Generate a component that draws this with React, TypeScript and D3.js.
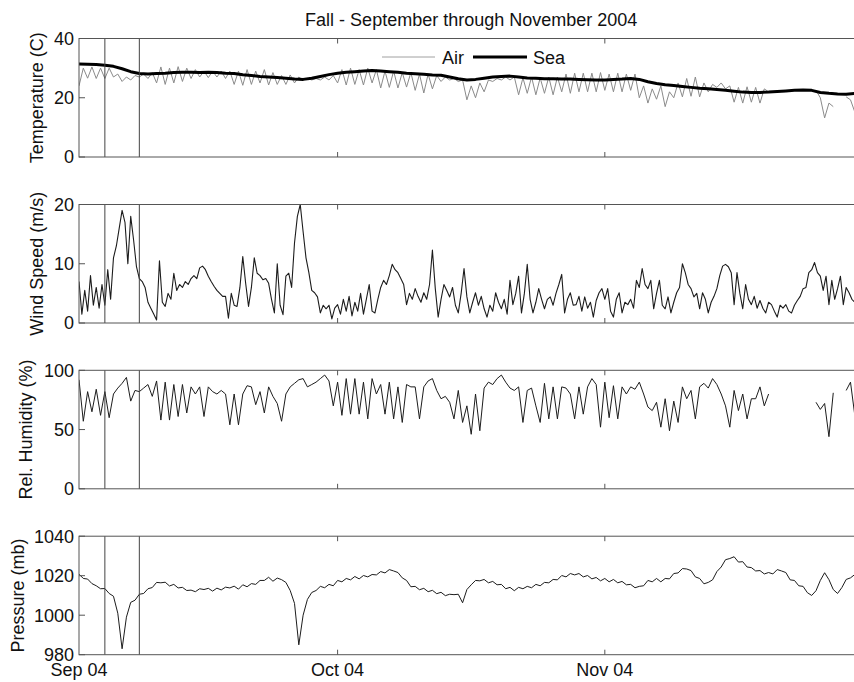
import React from "react";
import * as d3 from "d3";

// Buoy record, fall 2004. Day 0 is 1 September 2004 (UTC).
const START = Date.UTC(2004, 8, 1);
const END = Date.UTC(2004, 11, 1);
const DAY = 86400000;

const title = "Fall - September through November 2004";

const xTickDates = [Date.UTC(2004, 8, 1), Date.UTC(2004, 9, 1), Date.UTC(2004, 10, 1)];
const xTickLabels = ["Sep 04", "Oct 04", "Nov 04"];

// storm passage markers
const eventDates = [Date.UTC(2004, 8, 4), Date.UTC(2004, 8, 8)];

// sea surface temperature (C), one value per day
const seaTemp = [
  31.4, 31.3, 31.2, 31.0, 30.6, 29.8, 28.8, 28.2, 28.0, 28.2,
  28.3, 28.5, 28.6, 28.6, 28.5, 28.6, 28.5, 28.3, 28.2, 27.8,
  27.5, 27.2, 27.0, 26.8, 26.6, 26.3, 26.2, 26.6, 27.2, 27.8,
  28.3, 28.6, 28.8, 29.0, 29.2, 29.0, 28.8, 28.6, 28.3, 28.1,
  27.9, 27.7, 27.6, 27.0, 26.4, 26.0, 26.2, 26.6, 27.0, 27.2,
  27.3, 27.0, 26.7, 26.6, 26.4, 26.4, 26.3, 26.3, 26.2, 26.1,
  26.0, 26.0, 26.2, 26.3, 26.5, 26.2, 25.4, 24.8, 24.4, 24.1,
  23.8, 23.5, 23.2, 23.0, 22.8, 22.5, 22.2, 21.9, 21.8, 21.8,
  21.9, 22.1, 22.3, 22.5, 22.6, 22.5, 21.8, 21.5, 21.3, 21.2,
  21.5,
];

// air temperature (C), every 12 h (NaN = no record)
const airTemp = [
  24, 30, 26.6, 30.4, 26.5, 30, 26.5, 30, 27, 28,
  25.5, 27, 26, 27.5, 27, 28, 26.5, 28.5, 25, 30.4,
  24.5, 30, 25, 30.5, 25.5, 30, 26.5, 29.5, 27, 29,
  26.8, 29, 27, 29, 26.5, 29, 24.5, 29, 24.2, 29.5,
  24.5, 29, 25, 29.5, 24.3, 28.5, 24.5, 27.5, 24.5, 27.7,
  25, 27, 26, 26.5, 26, 26.5, 26, 27, 26, 27.5,
  25, 29.5, 24.3, 30, 24.5, 29.5, 24.3, 30, 25, 29.5,
  23.3, 29, 23.5, 29, 23.3, 28.5, 23.6, 28.5, 22.5, 28,
  21.6, 28, 23, 27.5, 25.5, 27, 26, 26.5, 25.5, 26,
  19.3, 24, 20, 25, 22, 26, 25.5, 26.5, 26, 27,
  26, 27, 21, 26.7, 21.5, 27, 21, 26.7, 21.5, 27,
  21, 27, 22, 28, 21.5, 28.3, 22, 28.3, 22, 28.3,
  22, 28.5, 22.5, 28, 22, 28.3, 22, 28, 22.5, 28,
  20, 24, 18.2, 23, 19.5, 24, 17, 22, 20, 25,
  20.3, 26.5, 20.5, 27, 20.3, 25, 22, 24.5, 23.5, 25,
  23, 24, 18.5, 23.5, 18.2, 23.7, 18.5, 23.5, 18.2, 23,
  22, NaN, NaN, NaN, NaN, NaN, NaN, NaN, NaN, NaN,
  NaN, 22.5, 20, 13.2, 18.2, 17, NaN, NaN, 20.3, 19.3,
  15.2,
];

// wind speed (m/s), every 8 h
const windSpeed = [
  7, 1.5, 5.5, 2, 8, 3, 6, 2.5, 6.5, 3, 9, 4,
  11, 13, 16, 19, 17, 10, 18, 14, 9.5, 7.5, 7, 6,
  3.5, 2.5, 1.5, 0.5, 10.5, 3.5, 2.8, 5, 4, 8.4, 5.5, 6.5,
  6, 7, 6.5, 7.5, 8, 7.5, 9.3, 9.6, 9, 7.9, 7, 6.2,
  5.5, 5, 4.5, 4.5, 0.8, 5, 3, 2.8, 6, 11.2, 6.7, 2.8,
  6, 11, 8.4, 8, 7.3, 7.5, 6.7, 4, 1.7, 10, 3, 1.4,
  7.9, 8.4, 6, 13.5, 18, 20, 15.4, 11, 8.5, 5.5, 5.1, 4.4,
  1.7, 3, 2.4, 3, 0.7, 2.5, 3.1, 1.5, 4, 2, 4.5, 1.2,
  3.5, 2, 5, 1.5, 4, 6.5, 2, 1.7, 4, 6, 7.2, 6.5,
  8, 9.9, 9, 8.5, 7.5, 6.5, 3.1, 5, 4, 5.8, 4.5, 3.5,
  5.1, 4, 6.5, 12.3, 5.8, 1, 4, 6.5, 5.5, 4.4, 6, 3,
  1.7, 5, 9.2, 4.4, 1.7, 3.5, 5.1, 3, 4.5, 2.4, 1, 3,
  2, 5.1, 3.5, 2.4, 4, 1.5, 7.2, 3.1, 5, 7.9, 1.7, 5,
  9.9, 4, 1.7, 3.5, 5.8, 4, 2.4, 4, 4.4, 3, 5, 6.5,
  8.2, 1.7, 4, 5.1, 3, 3.1, 4.5, 2, 4.4, 2.5, 3.5, 1,
  3.8, 5.1, 5.8, 4, 5.8, 2, 1, 4, 5.1, 1.7, 3.5, 3.1,
  4, 2.5, 7.2, 6, 9.2, 6.5, 5.8, 7.2, 2.4, 5, 7.2, 3,
  2.4, 4.4, 1.7, 3.5, 5.1, 6, 10, 8.5, 6.5, 5.8, 4.4, 5,
  2.4, 5.1, 4, 1.7, 3.5, 4.5, 5.8, 8, 9.6, 9.9, 9.5, 8.5,
  3.1, 8.5, 5, 2.4, 6.5, 4, 3.1, 4.5, 2.5, 3.8, 2.5, 1.7,
  3.5, 3.1, 2, 1, 3, 2.5, 3.1, 2, 1.7, 3, 3.8, 4.5,
  5.8, 6, 8.5, 9, 10.2, 8.5, 7.9, 5.5, 7.9, 3.1, 7.2, 4,
  5.8, 7.9, 3.1, 6, 5.1, 4, 3.5,
];

// relative humidity (%), every 12 h (NaN = no record)
const relHumidity = [
  92, 57, 82, 65, 84, 62, 82, 60, 80, 85,
  89, 94, 74, 83, 82, 85, 88, 78, 91, 58,
  90, 58, 88, 61, 88, 64, 86, 80, 86, 61,
  86, 82, 80, 83, 80, 54, 80, 54, 80, 87,
  86, 71, 82, 64, 86, 78, 72, 57, 80, 86,
  89, 92, 93, 86, 88, 90, 93, 96, 91, 70,
  90, 62, 93, 63, 93, 63, 90, 59, 93, 80,
  88, 63, 90, 59, 86, 56, 88, 86, 86, 59,
  86, 91, 93, 83, 76, 78, 73, 59, 83, 56,
  70, 46, 80, 49, 85, 90, 88, 93, 96, 90,
  85, 83, 86, 56, 83, 85, 70, 56, 89, 59,
  86, 59, 86, 85, 80, 59, 86, 63, 86, 93,
  88, 52, 90, 60, 87, 59, 86, 80, 86, 84,
  90, 80, 69, 66, 73, 52, 76, 49, 74, 56,
  86, 76, 83, 59, 86, 89, 85, 93, 88, 80,
  70, 52, 83, 66, 80, 59, 76, 76, 86, 70,
  80, NaN, NaN, NaN, NaN, NaN, NaN, NaN, NaN, NaN,
  NaN, 73, 67, 72, 44, 81, NaN, NaN, 83, 90,
  62,
];

// sea level pressure (mb), every 12 h
const pressure = [
  1020.8, 1018.6, 1018.3, 1016, 1014.9, 1013.4, 1013.5, 1011, 1009.6, 1001,
  983, 999, 1006.5, 1007.6, 1010.6, 1011, 1013.4, 1014, 1016.6, 1016.4,
  1016.7, 1014.8, 1015.6, 1013.8, 1014.1, 1012.5, 1012.7, 1011.9, 1013.4, 1013,
  1013.6, 1012.2, 1013.7, 1012.8, 1014.2, 1013.8, 1014.7, 1013.2, 1015.4, 1014.4,
  1016, 1015.6, 1017.6, 1017.6, 1019.2, 1017.2, 1018.8, 1018, 1016.6, 1012.5,
  1006, 985, 1000, 1008, 1011.5, 1012.5, 1014.6, 1013.9, 1015.6, 1014.9,
  1017.6, 1016.9, 1018.6, 1017.9, 1019.6, 1018.4, 1020.1, 1019.4, 1020.6, 1020.4,
  1022.1, 1021.4, 1023.1, 1022.4, 1021.6, 1018.9, 1017.6, 1014.4, 1014.6, 1012.9,
  1013.6, 1011.9, 1012.6, 1010.9, 1011.6, 1009.9, 1010.6, 1010.4, 1010.6, 1006.3,
  1013, 1015.4, 1017.6, 1017.4, 1018.1, 1016.4, 1017.1, 1015.4, 1015.6, 1013.4,
  1014.1, 1012.4, 1014.1, 1013.4, 1014.6, 1013.9, 1015.6, 1014.9, 1016.6, 1016.4,
  1018.1, 1017.9, 1020.1, 1019.4, 1021.1, 1020.4, 1021.1, 1019.4, 1020.1, 1018.4,
  1019.1, 1017.4, 1018.6, 1016.9, 1018.1, 1016.4, 1017.1, 1015.4, 1015.6, 1013.9,
  1014.6, 1014.9, 1017.6, 1016.9, 1018.6, 1016.9, 1018.6, 1018.4, 1021.1, 1021.4,
  1023.6, 1023.4, 1022.6, 1019.4, 1018.6, 1015.9, 1016.6, 1017.9, 1022.1, 1024.4,
  1028.1, 1028.7, 1029.6, 1026.9, 1027.1, 1024.4, 1024.1, 1022.4, 1022.6, 1020.9,
  1021.6, 1020.9, 1023.1, 1022.4, 1021.6, 1017.9, 1017.6, 1014.9, 1014.6, 1011.4,
  1010, 1012.4, 1017.6, 1021.5, 1018, 1013, 1011, 1014, 1018.1, 1018.9,
  1020.6,
];

const tempTicks = [0, 20, 40];
const windTicks = [0, 10, 20];
const humidityTicks = [0, 50, 100];
const pressureTicks = [980, 1000, 1020, 1040];

const legendLabels = ["Air", "Sea"];

type Pt = { t: number; v: number };

const toPoints = (values: number[], stepDays: number): Pt[] =>
  values.map((v, i) => ({ t: START + i * stepDays * DAY, v }));

const FONT = "'Liberation Sans', Arial, Helvetica, sans-serif";
const AXIS = "#555";

const W = 854;
const H = 682;
const LEFT = 79;
const RIGHT = 79 + 91 * 8.62;
const PANEL_H = 118.5;
const PANEL_TOPS = [38.5, 204.5, 370.3, 536.2];

const x = d3.scaleUtc().domain([new Date(START), new Date(END)]).range([LEFT, RIGHT]);

type Series = { pts: Pt[]; stroke: string; width: number };

function Panel(props: {
  idx: number;
  top: number;
  domain: [number, number];
  ticks: number[];
  label: string;
  labelX: number;
  series: Series[];
}) {
  const { idx, top, domain, ticks, label, labelX, series } = props;
  const bottom = top + PANEL_H;
  const y = d3.scaleLinear().domain(domain).range([bottom, top]);
  const line = d3
    .line<Pt>()
    .defined((d) => !Number.isNaN(d.v))
    .x((d) => x(new Date(d.t)))
    .y((d) => y(d.v));
  const clipId = `clip-${idx}`;
  return (
    <g>
      <defs>
        <clipPath id={clipId}>
          <rect x={LEFT} y={top - 1} width={RIGHT - LEFT} height={PANEL_H + 2} />
        </clipPath>
      </defs>
      <g clipPath={`url(#${clipId})`}>
        {series.map((s, i) => (
          <path
            key={i}
            d={line(s.pts) || ""}
            fill="none"
            stroke={s.stroke}
            strokeWidth={s.width}
            strokeLinejoin="round"
          />
        ))}
      </g>
      {eventDates.map((t, i) => (
        <line
          key={i}
          x1={x(new Date(t))}
          x2={x(new Date(t))}
          y1={top}
          y2={bottom}
          stroke="#444"
          strokeWidth={1}
        />
      ))}
      <rect x={LEFT} y={top} width={RIGHT - LEFT} height={PANEL_H} fill="none" stroke={AXIS} strokeWidth={1} />
      {ticks.map((t) => (
        <g key={t}>
          <line x1={LEFT} x2={LEFT + 6} y1={y(t)} y2={y(t)} stroke={AXIS} strokeWidth={1} />
          <text
            x={74}
            y={y(t)}
            dy="0.36em"
            textAnchor="end"
            fontFamily={FONT}
            fontSize={18}
            fill="#111"
          >
            {t}
          </text>
        </g>
      ))}
      {xTickDates.slice(1).map((t, i) => (
        <g key={i}>
          <line x1={x(new Date(t))} x2={x(new Date(t))} y1={top} y2={top + 5} stroke={AXIS} strokeWidth={1} />
          <line x1={x(new Date(t))} x2={x(new Date(t))} y1={bottom} y2={bottom - 5} stroke={AXIS} strokeWidth={1} />
        </g>
      ))}
      <text
        transform={`translate(${labelX},${(top + bottom) / 2}) rotate(-90)`}
        textAnchor="middle"
        fontFamily={FONT}
        fontSize={18}
        fill="#111"
      >
        {label}
      </text>
    </g>
  );
}

export default function App() {
  const air = toPoints(airTemp, 0.5);
  const sea = toPoints(seaTemp, 1);
  const wind = toPoints(windSpeed, 1 / 3);
  const rh = toPoints(relHumidity, 0.5);
  const pr = toPoints(pressure, 0.5);
  const lineColor = "#1c1c1c";

  return (
    <div style={{ position: "absolute", left: 0, top: 0 }}>
      <svg width={W} height={H} style={{ display: "block", background: "#fff" }}>
        <rect x={0} y={0} width={W} height={H} fill="#fff" />
        <text x={(LEFT + RIGHT) / 2} y={26} textAnchor="middle" fontFamily={FONT} fontSize={18} fill="#111">
          {title}
        </text>
        <Panel
          idx={0}
          top={PANEL_TOPS[0]}
          domain={[0, 40]}
          ticks={tempTicks}
          label="Temperature (C)"
          labelX={43}
          series={[
            { pts: air, stroke: "#8a8a8a", width: 1 },
            { pts: sea, stroke: "#000", width: 3 },
          ]}
        />
        <Panel
          idx={1}
          top={PANEL_TOPS[1]}
          domain={[0, 20]}
          ticks={windTicks}
          label="Wind Speed (m/s)"
          labelX={43}
          series={[{ pts: wind, stroke: lineColor, width: 1.1 }]}
        />
        <Panel
          idx={2}
          top={PANEL_TOPS[2]}
          domain={[0, 100]}
          ticks={humidityTicks}
          label="Rel. Humidity (%)"
          labelX={32}
          series={[{ pts: rh, stroke: lineColor, width: 1 }]}
        />
        <Panel
          idx={3}
          top={PANEL_TOPS[3]}
          domain={[980, 1040]}
          ticks={pressureTicks}
          label="Pressure (mb)"
          labelX={24}
          series={[{ pts: pr, stroke: lineColor, width: 1 }]}
        />
        {/* legend */}
        <g fontFamily={FONT} fontSize={18} fill="#111">
          <line x1={382} x2={435} y1={57} y2={57} stroke="#a0a0a0" strokeWidth={1} />
          <text x={442} y={63.5}>{legendLabels[0]}</text>
          <line x1={473} x2={527} y1={57} y2={57} stroke="#000" strokeWidth={3} />
          <text x={533} y={63.5}>{legendLabels[1]}</text>
        </g>
        {/* time axis labels */}
        {xTickDates.map((t, i) => (
          <text
            key={i}
            x={x(new Date(t))}
            y={675.5}
            textAnchor="middle"
            fontFamily={FONT}
            fontSize={18}
            fill="#111"
          >
            {xTickLabels[i]}
          </text>
        ))}
      </svg>
    </div>
  );
}
